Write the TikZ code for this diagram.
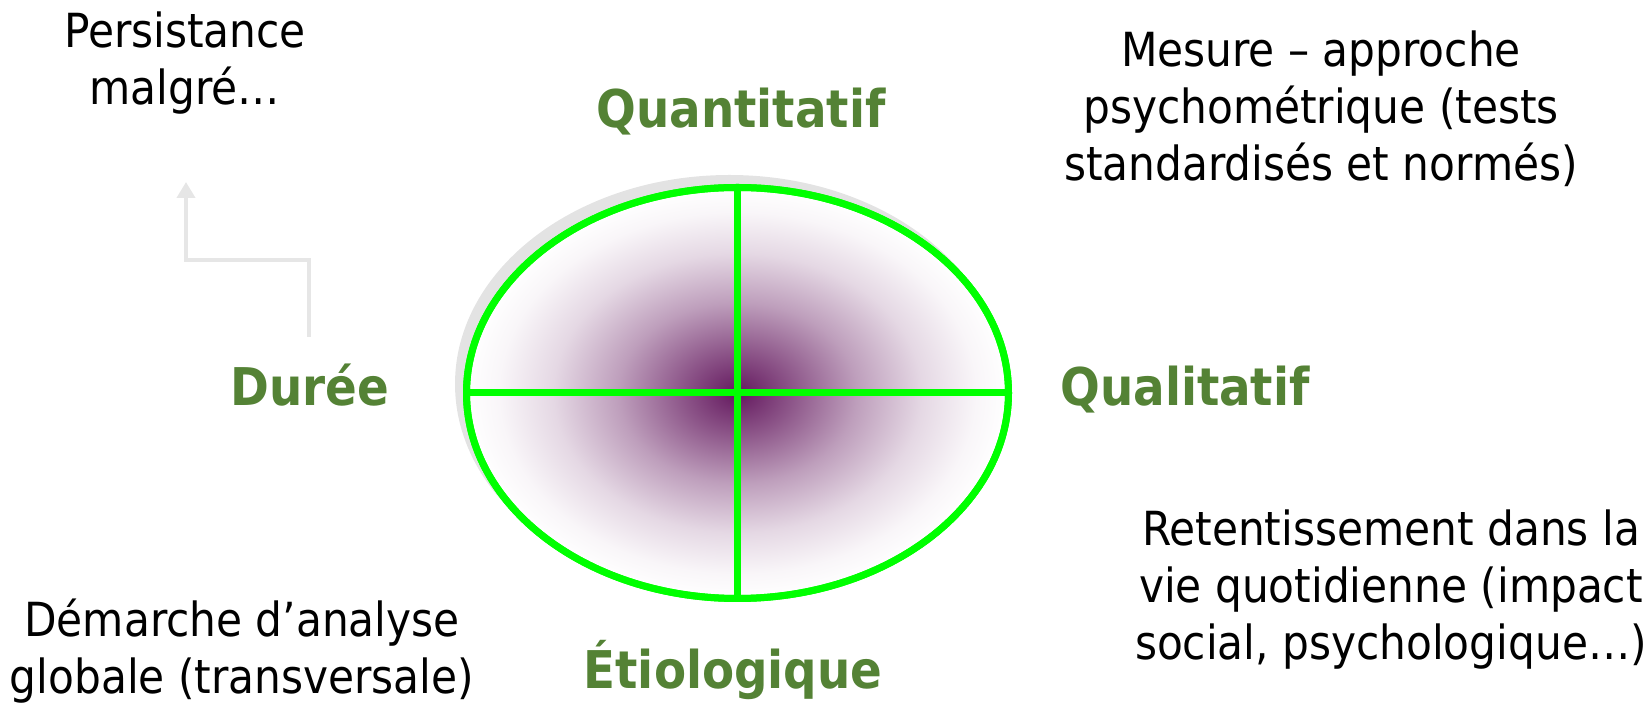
\documentclass[tikz,border=0pt]{standalone}
\usepackage{fontspec}
\setmainfont{DejaVu Sans Condensed}
\usetikzlibrary{shapes.geometric,arrows.meta}
\definecolor{lblgreen}{HTML}{548235}
\definecolor{crossgreen}{HTML}{00FF00}
\definecolor{pp}{RGB}{100,25,95}
\definecolor{shadowgray}{HTML}{E3E3E3}
\definecolor{arrowgray}{HTML}{E6E6E6}
\pgfdeclareradialshading{purpglow}{\pgfpoint{0bp}{0bp}}{color(0bp)=(pp); color(5bp)=(pp!74!white); color(11bp)=(pp!42!white); color(17bp)=(pp!17!white); color(22bp)=(pp!4!white); color(25bp)=(white); color(50bp)=(white)}
\tikzset{
  body/.style={anchor=base, align=center, inner sep=0pt, font=\fontsize{23.5pt}{28.5pt}\selectfont},
  axislabel/.style={anchor=base, inner sep=0pt, text=lblgreen, font=\fontsize{26pt}{30pt}\selectfont\bfseries},
  crossline/.style={draw=crossgreen, line width=3.5pt},
  grayarrow/.style={draw=arrowgray, line width=2pt, -{Triangle[width=9pt,length=8pt]}}
}
\begin{document}
\begin{tikzpicture}[x=0.5pt,y=-0.5pt]
\useasboundingbox (0,0) rectangle (1649,704);
% shadow
\node[ellipse, fill=shadowgray, inner sep=0pt, minimum width=274.5pt, minimum height=209pt] (shadow) at (729.5,384) {};
% main ellipse
\node[ellipse, shading=purpglow, crossline, inner sep=0pt, minimum width=271pt, minimum height=205.5pt] (eye) at (737.5,393) {};
\draw[crossline] (eye.north) -- (eye.south);
\draw[crossline] (eye.west) -- (eye.east);
\draw[crossline] (eye.center) ellipse [x radius=135.5pt, y radius=102.75pt];
% labels
\node[axislabel] (quanti) at (741,128) {Quantitatif};
\node[axislabel] (duree) at (310,406) {Durée};
\node[axislabel] (quali) at (1185,406) {Qualitatif};
\node[axislabel] (etio) at (733,689) {Étiologique};
% texts (anchored at the baseline of the last line)
\node[body] (persist) at (185,105) {Persistance\\malgré…};
\node[body] (mesure) at (1321,181) {Mesure – approche\\psychométrique (tests\\standardisés et normés)};
\node[body] (retent) at (1391,660) {Retentissement dans la\\vie quotidienne (impact\\social, psychologique…)};
\node[body] (demarche) at (242,694) {Démarche d’analyse\\globale (transversale)};
% arrow
\coordinate (arrstart) at (309,337);
\coordinate (arrend) at (186,182);
\draw[grayarrow] (arrstart) -- ++(0,-77) -| (arrend);
\end{tikzpicture}
\end{document}
